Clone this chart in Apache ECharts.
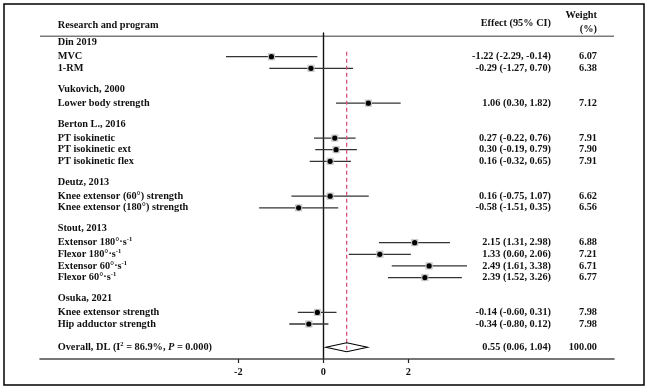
<!DOCTYPE html>
<html><head><meta charset="utf-8">
<script src="https://cdn.jsdelivr.net/npm/echarts@6/dist/echarts.min.js"></script>
<style>html,body{margin:0;padding:0;background:#fff}#c{width:651px;height:389px}</style>
</head><body><div id="c"></div>
<script>
// ---- data ----
const groupNames = ['Din 2019', 'Vukovich, 2000', 'Berton L., 2016', 'Deutz, 2013', 'Stout, 2013', 'Osuka, 2021'];
const groupSizes = [2, 1, 3, 2, 4, 2];
const outcomeLabels = ['MVC', '1-RM', 'Lower body strength', 'PT isokinetic', 'PT isokinetic ext', 'PT isokinetic flex',
  'Knee extensor (60°) strength', 'Knee extensor (180°) strength',
  'Extensor 180°·s{sup|-1}', 'Flexor 180°·s{sup|-1}', 'Extensor 60°·s{sup|-1}', 'Flexor 60°·s{sup|-1}',
  'Knee extensor strength', 'Hip adductor strength'];
const effects = [-1.22, -0.29, 1.06, 0.27, 0.30, 0.16, 0.16, -0.58, 2.15, 1.33, 2.49, 2.39, -0.14, -0.34];
const lowerCI = [-2.29, -1.27, 0.30, -0.22, -0.19, -0.32, -0.75, -1.51, 1.31, 0.60, 1.61, 1.52, -0.60, -0.80];
const upperCI = [-0.14, 0.70, 1.82, 0.76, 0.79, 0.65, 1.07, 0.35, 2.98, 2.06, 3.38, 3.26, 0.31, 0.12];
const weights = [6.07, 6.38, 7.12, 7.91, 7.90, 7.91, 6.62, 6.56, 6.88, 7.21, 6.71, 6.77, 7.98, 7.98];
const overallLabel = 'Overall, DL (I{sup|2} = 86.9%, {it|P} = 0.000)';
const overallEffect = 0.55, overallLower = 0.06, overallUpper = 1.04, overallWeight = 100.00;
const xTicks = [-2, 0, 2];
const headerLeft = 'Research and program';
const headerEffect = 'Effect (95% CI)';
const headerWeight = 'Weight\n(%)';

// ---- build rows ----
const rows = [];
let r = 0, k = 0;
groupNames.forEach((g, gi) => {
  rows.push({ type: 'header', label: g, row: r }); r++;
  for (let j = 0; j < groupSizes[gi]; j++) {
    rows.push({ type: 'study', idx: k, row: r,
      label: outcomeLabels[k],
      eff: effects[k].toFixed(2) + ' (' + lowerCI[k].toFixed(2) + ', ' + upperCI[k].toFixed(2) + ')',
      w: weights[k].toFixed(2) });
    k++; r++;
  }
  r++;
});
const overallRow = r;
rows.push({ type: 'overall', row: overallRow, label: overallLabel,
  eff: overallEffect.toFixed(2) + ' (' + overallLower.toFixed(2) + ', ' + overallUpper.toFixed(2) + ')',
  w: overallWeight.toFixed(2) });
const studyRows = rows.filter(d => d.type === 'study');

const FONT = 'bold 10.3px "Liberation Serif"';
const TXT = '#111';
const rich = {
  sup: { font: 'bold 6.5px "Liberation Serif"', fill: TXT, lineHeight: 6, verticalAlign: 'top' },
  it: { font: 'italic bold 10.3px "Liberation Serif"', fill: TXT, lineHeight: 13 }
};

const chart = echarts.init(document.getElementById('c'), null, { renderer: 'canvas' });
const option = {
  animation: false,
  grid: { left: 40, right: 37, top: 33, bottom: 30 },
  xAxis: {
    type: 'value', min: -6.666, max: 6.84,
    axisLine: { show: true, onZero: false, lineStyle: { color: '#4a4a4a', width: 1.6 } },
    axisTick: { show: true, customValues: xTicks, length: 4, lineStyle: { color: '#222', width: 1.2 } },
    axisLabel: { customValues: xTicks, margin: 8, color: TXT, fontFamily: 'Liberation Serif', fontWeight: 'bold', fontSize: 10.3 },
    splitLine: { show: false }
  },
  yAxis: {
    type: 'value', inverse: true, min: -1.04, max: 27.01,
    axisLine: { show: true, onZero: true, lineStyle: { color: '#111', width: 1.4 } },
    axisTick: { show: false }, axisLabel: { show: false }, splitLine: { show: false }
  },
  series: [
    {
      type: 'custom', name: 'studies',
      data: studyRows.map(d => [lowerCI[d.idx], upperCI[d.idx], effects[d.idx], d.row]),
      renderItem: function (params, api) {
        const y = api.value(3);
        const a = api.coord([api.value(0), y]);
        const b = api.coord([api.value(1), y]);
        const c = api.coord([api.value(2), y]);
        return { type: 'group', children: [
          { type: 'line', shape: { x1: a[0], y1: a[1], x2: b[0], y2: b[1] }, style: { stroke: '#333', lineWidth: 1.3 } },
          { type: 'rect', shape: { x: c[0] - 3.6, y: c[1] - 3.6, width: 7.2, height: 7.2 }, style: { fill: '#c8c8c8' } },
          { type: 'circle', shape: { cx: c[0], cy: c[1], r: 2.6 }, style: { fill: '#000' } }
        ] };
      }
    },
    {
      type: 'custom', name: 'overall',
      data: [[overallLower, overallEffect, overallUpper, overallRow]],
      renderItem: function (params, api) {
        const y = api.value(3);
        const lo = api.coord([api.value(0), y]);
        const es = api.coord([api.value(1), y]);
        const hi = api.coord([api.value(2), y]);
        const top = api.coord([api.value(1), 0.57]);
        const h = 4.5;
        return { type: 'group', children: [
          { type: 'line', shape: { x1: es[0], y1: top[1], x2: es[0], y2: es[1] + h }, style: { stroke: '#d6507e', lineWidth: 1.3, lineDash: [4, 3] } },
          { type: 'polygon', shape: { points: [[lo[0], lo[1]], [es[0], es[1] - h], [hi[0], hi[1]], [es[0], es[1] + h]] },
            style: { fill: 'rgba(255,255,255,0)', stroke: '#000', lineWidth: 1.1 } }
        ] };
      }
    },
    {
      type: 'custom', name: 'texts',
      data: rows.map((d, i) => [0, d.row, i]),
      renderItem: function (params, api) {
        const d = rows[api.value(2)];
        const cs = params.coordSys;
        let y = api.coord([0, d.row])[1];
        if (d.type === 'header') y -= 2.3;
        const children = [
          { type: 'text', x: cs.x + 17.7, y: y, style: { text: d.label, font: FONT, fill: TXT, align: 'left', verticalAlign: 'middle', lineHeight: 13, rich: rich } }
        ];
        if (d.type !== 'header') {
          children.push({ type: 'text', x: cs.x + 511, y: y, style: { text: d.eff, font: FONT, fill: TXT, align: 'right', verticalAlign: 'middle' } });
          children.push({ type: 'text', x: cs.x + 557, y: y, style: { text: d.w, font: FONT, fill: TXT, align: 'right', verticalAlign: 'middle' } });
        }
        return { type: 'group', children: children };
      }
    }
  ],
  graphic: [
    { type: 'rect', shape: { x: 4, y: 4, width: 640, height: 381 }, style: { fill: 'none', stroke: '#000', lineWidth: 1.5 }, silent: true },
    { type: 'line', shape: { x1: 40, y1: 36.3, x2: 614, y2: 36.3 }, style: { stroke: '#7a7a7a', lineWidth: 1.6 } },
    { type: 'text', x: 57.7, y: 25, style: { text: headerLeft, font: FONT, fill: TXT, align: 'left', verticalAlign: 'middle' } },
    { type: 'text', x: 551, y: 23.7, style: { text: headerEffect, font: FONT, fill: TXT, align: 'right', verticalAlign: 'middle' } },
    { type: 'text', x: 597, y: 22.5, style: { text: headerWeight, font: FONT, fill: TXT, align: 'right', verticalAlign: 'middle', lineHeight: 13.6 } }
  ]
};
chart.setOption(option);
</script>
</body></html>
